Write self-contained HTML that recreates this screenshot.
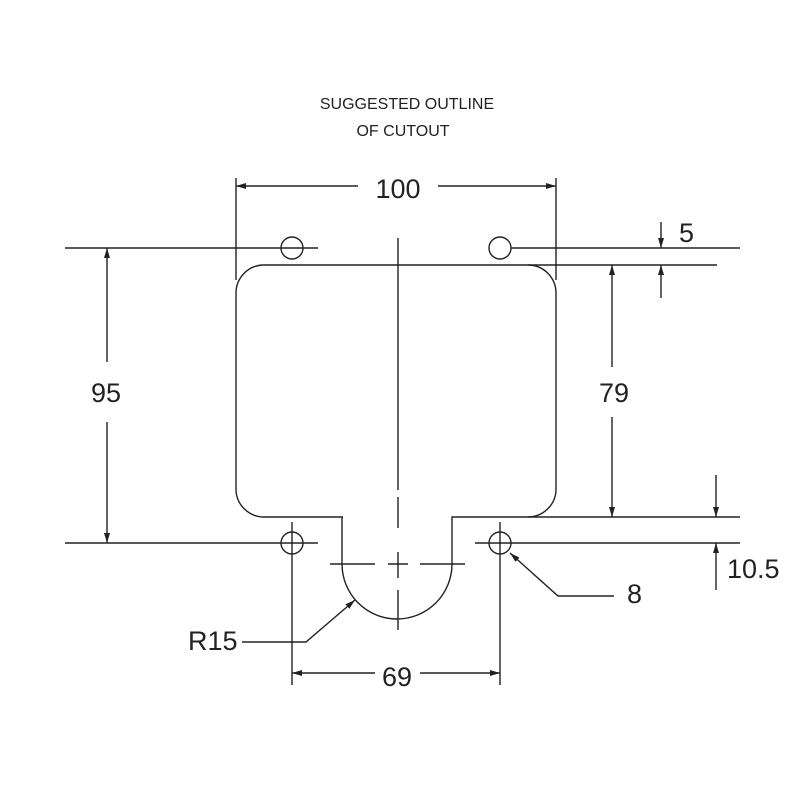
<!DOCTYPE html>
<html><head><style>body{margin:0;background:#fff}svg{display:block}text{font-family:"Liberation Sans",sans-serif;fill:#222}</style></head>
<body>
<svg width="794" height="794" viewBox="0 0 794 794" xmlns="http://www.w3.org/2000/svg">
<defs><marker id="a" viewBox="0 0 10 6" refX="10" refY="3" markerWidth="12" markerHeight="6" markerUnits="userSpaceOnUse" orient="auto-start-reverse"><path d="M0,0L10,3L0,6z" fill="#222"/></marker></defs>
<g stroke="#222" stroke-width="1.4" fill="none">
<text x="407" y="109" font-size="16" text-anchor="middle" stroke="none">SUGGESTED OUTLINE</text>
<text x="403" y="136" font-size="16" text-anchor="middle" stroke="none">OF CUTOUT</text>
<path d="M343,517 L264,517 A28,28 0 0 1 236,489 L236,293 A28,28 0 0 1 264,265 L528,265 A28,28 0 0 1 556,293 L556,489 A28,28 0 0 1 528,517 L452,517 L452,564 A55,55 0 0 1 342,564 L342,517"/>
<line x1="528" y1="265" x2="717" y2="265"/>
<line x1="528" y1="517" x2="740" y2="517"/>
<circle cx="292" cy="248" r="11"/><circle cx="500" cy="248" r="11"/>
<circle cx="292" cy="543" r="11"/><circle cx="500" cy="543" r="11"/>
<line x1="65" y1="248" x2="318" y2="248"/><line x1="511" y1="248" x2="740" y2="248"/>
<line x1="65" y1="543" x2="318" y2="543"/><line x1="475" y1="543" x2="740" y2="543"/>
<line x1="292" y1="522" x2="292" y2="685"/><line x1="500" y1="522" x2="500" y2="685"/>
<line x1="398" y1="238" x2="398" y2="490"/>
<line x1="398" y1="497" x2="398" y2="528"/>
<line x1="398" y1="552" x2="398" y2="578"/>
<line x1="398" y1="590" x2="398" y2="630"/>
<line x1="330" y1="564" x2="375" y2="564"/><line x1="388" y1="564" x2="408" y2="564"/><line x1="420" y1="564" x2="465" y2="564"/>
<line x1="236" y1="178" x2="236" y2="280"/><line x1="556" y1="178" x2="556" y2="280"/>
<line x1="236" y1="186" x2="358" y2="186" marker-start="url(#a)"/><line x1="438" y1="186" x2="556" y2="186" marker-end="url(#a)"/>
<line x1="107" y1="362" x2="107" y2="248" marker-end="url(#a)"/>
<line x1="107" y1="422" x2="107" y2="543" marker-end="url(#a)"/>
<line x1="612" y1="367" x2="612" y2="265" marker-end="url(#a)"/>
<line x1="612" y1="417" x2="612" y2="517" marker-end="url(#a)"/>
<line x1="661" y1="222" x2="661" y2="248" marker-end="url(#a)"/>
<line x1="661" y1="298" x2="661" y2="265" marker-end="url(#a)"/>
<line x1="716" y1="475" x2="716" y2="517" marker-end="url(#a)"/>
<line x1="716" y1="590" x2="716" y2="543" marker-end="url(#a)"/>
<line x1="292" y1="673" x2="375" y2="673" marker-start="url(#a)"/><line x1="420" y1="673" x2="500" y2="673" marker-end="url(#a)"/>
<polyline points="242,642 306,642 355,600" marker-end="url(#a)"/>
<polyline points="614,596 558,596 510,553" marker-end="url(#a)"/>
</g>
<g font-size="27">
<text x="398" y="198" text-anchor="middle">100</text>
<text x="106" y="402" text-anchor="middle">95</text>
<text x="614" y="402" text-anchor="middle">79</text>
<text x="679" y="242">5</text>
<text x="727" y="578">10.5</text>
<text x="627" y="603">8</text>
<text x="188" y="650">R15</text>
<text x="397" y="686" text-anchor="middle">69</text>
</g>
</svg>
</body></html>
